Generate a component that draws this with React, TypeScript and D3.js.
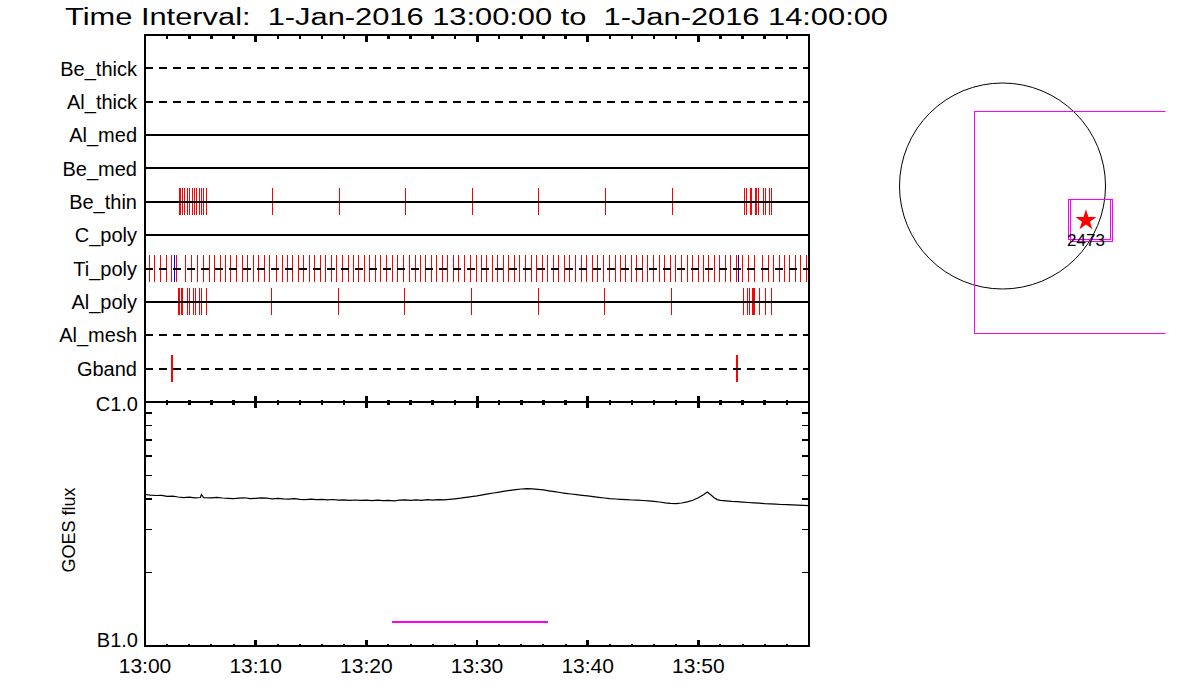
import React from "react";
import * as d3 from "d3";

// ---------------- data ----------------
const T0 = Date.UTC(2016, 0, 1, 13, 0, 0);
const T1 = Date.UTC(2016, 0, 1, 14, 0, 0);
const titleText = "Time Interval:  1-Jan-2016 13:00:00 to  1-Jan-2016 14:00:00";

const channels = ["Be_thick", "Al_thick", "Al_med", "Be_med", "Be_thin", "C_poly", "Ti_poly", "Al_poly", "Al_mesh", "Gband"];
const channelDashed = [true, true, false, false, false, false, true, false, true, true];

// exposure times, minutes after 13:00
const beThinTimes = [
  3.10, 3.23, 3.43, 3.61, 3.82, 4.0, 4.25, 4.45, 4.67, 4.88, 5.09, 5.33, 5.54,
  11.5, 17.56, 23.52, 29.58, 35.54, 41.59, 47.65,
  54.13, 54.31, 54.67, 54.79, 55.15, 55.3, 55.46, 55.87, 56.09, 56.41, 56.59,
];
const tiPolyTimes = [
  0.39, 0.84, 1.38, 1.92, 2.38, 2.89, 3.64, 4.18, 4.73, 5.27, 5.81, 6.26, 6.8, 7.26, 7.71, 8.25, 8.79, 9.24,
  9.79, 10.24, 10.78, 11.23, 11.86, 12.41, 12.86, 13.31, 13.85, 14.3, 14.85, 15.3, 15.84, 16.29, 16.83, 17.29,
  17.83, 18.37, 18.82, 19.27, 19.82, 20.27, 20.81, 21.26, 21.8, 22.35, 22.8, 23.34, 23.88, 24.42, 24.88, 25.33,
  25.87, 26.32, 26.86, 27.32, 27.86, 28.31, 28.85, 29.39, 29.94, 30.39, 30.84, 31.38, 31.83, 32.38, 32.83,
  33.37, 33.82, 34.36, 34.9, 35.36, 35.9, 36.35, 36.89, 37.35, 37.89, 38.34, 38.88, 39.42, 39.88, 40.42,
  40.87, 41.41, 41.95, 42.5, 42.95, 43.4, 43.94, 44.4, 44.94, 45.39, 45.93, 46.47, 46.92, 47.47, 47.92,
  48.46, 49.0, 49.45, 50.0, 50.45, 50.9, 51.44, 51.89, 52.44, 52.89, 53.43, 53.97, 54.51, 55.06, 55.78,
  56.32, 56.77, 57.31, 57.77, 58.22, 58.76, 59.21, 59.75,
];
const tiPolyBlueTimes = [2.65, 53.61];
const alPolyTimes = [
  3.01, 3.14, 3.28, 3.41, 3.86, 3.98, 4.40, 4.53, 4.95, 5.08, 5.54,
  11.41, 17.47, 23.43, 29.48, 35.54, 41.48, 47.56,
  54.06, 54.42, 54.58, 54.85, 54.97, 55.09, 55.51, 56.06, 56.6,
];
const gbandTimes = [2.48, 53.48];

const xTickLabels = ["13:00", "13:10", "13:20", "13:30", "13:40", "13:50"];
const yTickValues = [1e-7, 1e-6];
const yTickLabels = ["B1.0", "C1.0"];
const yAxisTitle = "GOES flux";

// GOES flux (units of 1e-7 W/m^2)
const goesMinutes = [
  0, 0.5, 1, 1.5, 2, 2.5, 3, 3.5, 4, 4.5, 5, 5.1, 5.3, 6, 6.5, 7, 7.5, 8, 8.5, 9, 9.5, 10, 10.5, 11, 11.5, 12,
  12.5, 13, 13.5, 14, 14.5, 15, 15.5, 16, 16.5, 17, 17.5, 18, 18.5, 19, 19.5, 20, 20.5, 21, 21.5, 22, 22.5, 23,
  23.5, 24, 24.5, 25, 25.5, 26, 26.5, 27, 27.5, 28, 28.5, 29, 29.5, 30, 30.5, 31, 31.5, 32, 32.5, 33, 33.5, 34,
  34.5, 35, 35.5, 36, 36.5, 37, 37.5, 38, 38.5, 39, 39.5, 40, 40.5, 41, 41.5, 42, 42.5, 43, 43.5, 44, 44.5, 45,
  45.5, 46, 46.5, 47, 47.5, 48, 48.5, 49, 49.5, 50, 50.5, 50.8, 51.1, 51.4, 51.7, 52, 52.5, 53, 53.5, 54, 54.5,
  55, 55.5, 56, 56.5, 57, 57.5, 58, 58.5, 59, 59.5, 60,
];
const goesFlux = [
  4.178, 4.150, 4.139, 4.146, 4.103, 4.111, 4.080, 4.057, 4.073, 4.050, 4.061, 4.178, 4.057, 4.050, 4.065,
  4.042, 4.031, 4.019, 4.034, 4.050, 4.019, 4.031, 4.046, 4.034, 4.012, 4.027, 4.008, 3.996, 4.015, 3.993,
  3.981, 4.000, 3.977, 3.989, 3.970, 3.985, 3.962, 3.973, 3.955, 3.966, 3.951, 3.962, 3.944, 3.958, 3.940,
  3.955, 3.936, 3.958, 3.973, 3.955, 3.970, 3.951, 3.977, 3.962, 3.981, 3.970, 3.993, 4.012, 4.034, 4.065,
  4.096, 4.127, 4.166, 4.201, 4.237, 4.273, 4.310, 4.343, 4.375, 4.400, 4.417, 4.408, 4.388, 4.363, 4.326,
  4.293, 4.257, 4.225, 4.197, 4.174, 4.146, 4.123, 4.096, 4.069, 4.042, 4.019, 4.004, 3.989, 3.977, 3.966,
  3.958, 3.948, 3.933, 3.918, 3.892, 3.862, 3.841, 3.833, 3.855, 3.896, 3.955, 4.050, 4.178, 4.277, 4.178,
  4.061, 3.981, 3.951, 3.933, 3.914, 3.903, 3.888, 3.873, 3.862, 3.848, 3.830, 3.823, 3.812, 3.801, 3.794,
  3.787, 3.776, 3.769, 3.762,
];
const flareBarMinutes = [22.32, 36.41];
const flareBarFlux = 1.254; // 1e-7

// Sun map (arcsec)
const sunRadius = 975;
const fovBig = [-267, 2000, 707, -1394]; // x0, x1, y0, y1
const fovSmallA = [627, 1025, -126, -511];
const fovSmallB = [639, 1044, -126, -524];
const arNumber = "2473";
const arPos = [790, -325];

// ---------------- chart ----------------
const FONT = "'Liberation Sans', Arial, sans-serif";
const RED = "#ff0000";
const BLUE = "#0000ff";
const MAGENTA = "#ff00ff";

const toDate = (m: number) => new Date(T0 + m * 60000);

export default function App() {
  const left = 145, right = 809, top = 35, mid = 402, bottom = 646;
  const x = d3.scaleUtc().domain([new Date(T0), new Date(T1)]).range([left, right]);
  const rowY = d3.scaleLinear().domain([-1, channels.length]).range([top, mid]);
  const y = d3.scaleLog().domain([1e-7, 1e-6]).range([bottom, mid]);

  const minorTicks = x.ticks(d3.utcMinute.every(2) as any).filter((d) => +d > T0 && +d < T1);
  const majorTicks = x.ticks(d3.utcMinute.every(10) as any).filter((d) => +d > T0 && +d < T1);
  const labelTicks = xTickLabels.map((_, i) => toDate(i * 10));

  const logMinor = d3.range(2, 10).map((k) => k * 1e-7);

  const eventMap: Record<string, { times: number[]; color: string; w: number }[]> = {
    Be_thin: [{ times: beThinTimes, color: RED, w: 1 }],
    Ti_poly: [
      { times: tiPolyTimes, color: RED, w: 1 },
      { times: tiPolyBlueTimes, color: BLUE, w: 1 },
    ],
    Al_poly: [{ times: alPolyTimes, color: RED, w: 1 }],
    Gband: [{ times: gbandTimes, color: RED, w: 2 }],
  };

  const line = d3
    .line<number>()
    .x((_, i) => x(toDate(goesMinutes[i])))
    .y((v) => y(v * 1e-7));

  // Sun map scales
  const cx = 1002.5, cy = 186, rPx = 103;
  const sx = d3.scaleLinear().domain([-sunRadius, sunRadius]).range([cx - rPx, cx + rPx]);
  const sy = d3.scaleLinear().domain([-sunRadius, sunRadius]).range([cy + rPx, cy - rPx]);
  const rectOf = (r: number[]) => ({
    x: sx(r[0]),
    y: sy(r[2]),
    width: sx(r[1]) - sx(r[0]),
    height: sy(r[3]) - sy(r[2]),
  });
  const big = rectOf(fovBig);
  const smA = rectOf(fovSmallA);
  const smB = rectOf(fovSmallB);
  const star = d3.symbol().type(d3.symbolStar).size(136)() as string;

  return (
    <svg
      width={1200}
      height={700}
      style={{ position: "absolute", left: 0, top: 0, background: "#fff" }}
      fontFamily={FONT}
    >
      <rect x={0} y={0} width={1200} height={700} fill="#fff" />
      <defs>
        <clipPath id="mapclip">
          <rect x={860} y={0} width={305.5} height={700} />
        </clipPath>
      </defs>

      {/* title */}
      <text
        x={65}
        y={25}
        fontSize={23}
        textLength={823}
        lengthAdjust="spacingAndGlyphs"
        fill="#000"
        style={{ whiteSpace: "pre" }}
        xmlSpace="preserve"
      >
        {titleText}
      </text>

      {/* ---------- top panel ---------- */}
      {channels.map((ch, i) => (
        <g key={ch}>
          {(eventMap[ch] || []).map((ev, j) =>
            ev.times.map((t, k) => (
              <line
                key={`${j}-${k}`}
                x1={x(toDate(t))}
                x2={x(toDate(t))}
                y1={rowY(i) - 13.5}
                y2={rowY(i) + 13.5}
                stroke={ev.color}
                strokeWidth={ev.w}
                shapeRendering="crispEdges"
              />
            ))
          )}
          <line
            x1={left}
            x2={right}
            y1={rowY(i)}
            y2={rowY(i)}
            stroke="#000"
            strokeWidth={2}
            strokeDasharray={channelDashed[i] ? "8 6" : undefined}
            shapeRendering="crispEdges"
          />
          <text x={137} y={rowY(i)} dy="0.36em" textAnchor="end" fontSize={20} fill="#000">
            {ch}
          </text>
        </g>
      ))}
      <rect x={left} y={top} width={right - left} height={mid - top} fill="none" stroke="#000" strokeWidth={2} shapeRendering="crispEdges" />
      {/* ticks on top border and on the shared border */}
      {minorTicks.map((d) => {
        const isMajor = majorTicks.some((m) => +m === +d);
        const len = isMajor ? 7 : 3.5;
        const w = isMajor ? 3 : 2.5;
        return (
          <g key={+d}>
            <line x1={x(d)} x2={x(d)} y1={top} y2={top + len} stroke="#000" strokeWidth={w} shapeRendering="crispEdges" />
            <line x1={x(d)} x2={x(d)} y1={mid - len + 1} y2={mid + len - 1} stroke="#000" strokeWidth={w} shapeRendering="crispEdges" />
            <line x1={x(d)} x2={x(d)} y1={bottom - len + 1} y2={bottom} stroke="#000" strokeWidth={w - 0.5} shapeRendering="crispEdges" />
          </g>
        );
      })}

      {/* ---------- bottom panel ---------- */}
      <rect x={left} y={mid} width={right - left} height={bottom - mid} fill="none" stroke="#000" strokeWidth={2} shapeRendering="crispEdges" />
      {logMinor.map((v) => (
        <g key={v}>
          <line x1={left} x2={left + 7} y1={y(v)} y2={y(v)} stroke="#000" strokeWidth={1.5} shapeRendering="crispEdges" />
          <line x1={right - 7} x2={right} y1={y(v)} y2={y(v)} stroke="#000" strokeWidth={1.5} shapeRendering="crispEdges" />
        </g>
      ))}
      {yTickValues.map((v, i) => (
        <text key={v} x={138} y={y(v) + (i === 0 ? -6 : 2)} dy="0.36em" textAnchor="end" fontSize={20} fill="#000">
          {yTickLabels[i]}
        </text>
      ))}
      <text
        transform={`translate(${75},${(mid + bottom) / 2 + 6}) rotate(-90)`}
        textAnchor="middle"
        fontSize={18}
        fill="#000"
      >
        {yAxisTitle}
      </text>
      <path d={line(goesFlux) as string} fill="none" stroke="#000" strokeWidth={1.2} />
      <line
        x1={x(toDate(flareBarMinutes[0]))}
        x2={x(toDate(flareBarMinutes[1]))}
        y1={y(flareBarFlux * 1e-7)}
        y2={y(flareBarFlux * 1e-7)}
        stroke={MAGENTA}
        strokeWidth={2}
        shapeRendering="crispEdges"
      />
      {labelTicks.map((d, i) => (
        <text key={i} x={x(d)} y={673} textAnchor="middle" fontSize={21} fill="#000">
          {xTickLabels[i]}
        </text>
      ))}

      {/* ---------- sun map ---------- */}
      <circle cx={sx(0)} cy={sy(0)} r={sx(sunRadius) - sx(0)} fill="none" stroke="#000" strokeWidth={1} />
      <g clipPath="url(#mapclip)">
        <rect {...big} fill="none" stroke={MAGENTA} strokeWidth={1} shapeRendering="crispEdges" />
      </g>
      <rect {...smA} fill="none" stroke={MAGENTA} strokeWidth={1} shapeRendering="crispEdges" />
      <rect {...smB} fill="none" stroke={MAGENTA} strokeWidth={1} shapeRendering="crispEdges" />
      <path d={star} transform={`translate(${sx(arPos[0])},${sy(arPos[1])})`} fill={RED} />
      <text x={sx(arPos[0])} y={sy(arPos[1]) + 26} textAnchor="middle" fontSize={17} fill="#000">
        {arNumber}
      </text>
    </svg>
  );
}
